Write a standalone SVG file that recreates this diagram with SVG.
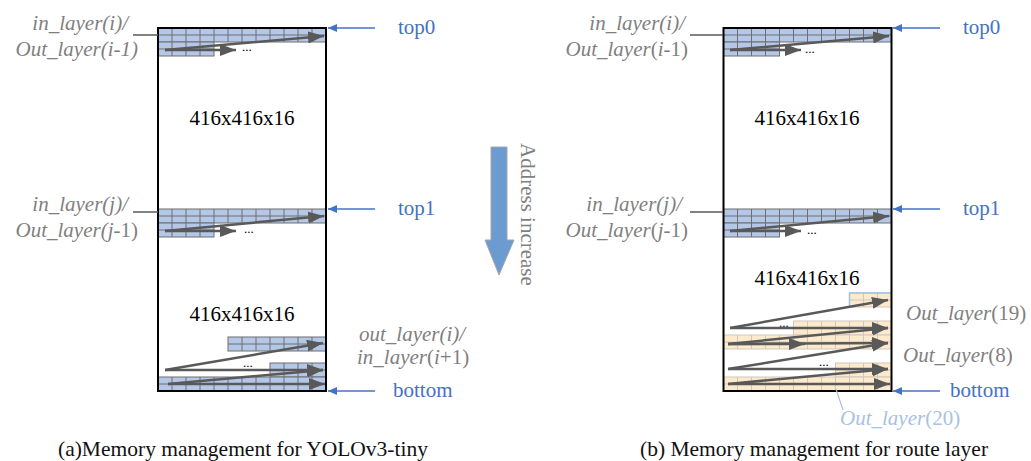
<svg xmlns="http://www.w3.org/2000/svg" width="1031" height="461" viewBox="0 0 1031 461">
  <style>
    text { font-family: "Liberation Serif", "Times New Roman", serif; font-size: 21px; }
    .lbl { fill: #7F7F7F; font-style: italic; }
    .up { font-style: normal; }
    .ptr { fill: #4472C4; }
    .dim { fill: #000; }
    .cap { fill: #111; font-size: 21.5px; }
    .dots { fill: #000; font-size: 13px; }
    .faint { fill: #A9C1E3; font-style: italic; }
    .frame { fill: none; stroke: #000; stroke-width: 2; }
    .bcell { fill: #B4C7E7; stroke: #6E6E6E; stroke-width: 1; }
    .bgrid { fill: none; stroke: #6E6E6E; stroke-width: 1; }
    .ocell { fill: #FDE9CC; stroke: #CFC8BC; stroke-width: 1; }
    .ogrid { fill: none; stroke: #CFC8BC; stroke-width: 1; }
    .flow { fill: none; stroke: #595959; stroke-width: 2.5; marker-end: url(#headGray); }
    .lead { fill: none; stroke: #595959; stroke-width: 1.6; }
    .point { fill: none; stroke: #4472C4; stroke-width: 1.6; marker-end: url(#headBlue); }
  </style>
  <defs>
    <marker id="headGray" markerUnits="userSpaceOnUse" markerWidth="18" markerHeight="14" refX="16" refY="6" orient="auto">
      <path d="M0,0 L16,6 L0,12 z" fill="#595959"/>
    </marker>
    <marker id="headBlue" markerUnits="userSpaceOnUse" markerWidth="10" markerHeight="9" refX="9" refY="4" orient="auto">
      <path d="M0,0 L9,4 L0,8 z" fill="#4472C4"/>
    </marker>
  </defs>

  <rect width="1031" height="461" fill="#fff"/>

  <!-- (a) memory layout for YOLOv3-tiny -->
  <g id="mem-a">
    <rect class="bcell" x="158" y="28" width="168" height="14"/>
    <rect class="bcell" x="158" y="42" width="56" height="14"/>
    <path class="bgrid" d="M172 28V56M186 28V56M200 28V56M214 28V42M228 28V42M242 28V42M256 28V42M270 28V42M284 28V42M298 28V42M312 28V42M158 35H326M158 49H214"/>
    <rect class="bcell" x="158" y="209" width="168" height="14"/>
    <rect class="bcell" x="158" y="223" width="56" height="14"/>
    <path class="bgrid" d="M172 209V237M186 209V237M200 209V237M214 209V223M228 209V223M242 209V223M256 209V223M270 209V223M284 209V223M298 209V223M312 209V223M158 216H326M158 230H214"/>
    <rect class="bcell" x="228" y="337" width="98" height="14"/>
    <path class="bgrid" d="M242 337v14M256 337v14M270 337v14M284 337v14M298 337v14M312 337v14M228 344h98"/>
    <rect class="bcell" x="270" y="363" width="56" height="14"/>
    <rect class="bcell" x="158" y="377" width="168" height="14"/>
    <path class="bgrid" d="M284 363v28M298 363v28M312 363v28M172 377v14M186 377v14M200 377v14M214 377v14M228 377v14M242 377v14M256 377v14M270 377v14M270 370h56M158 384h168"/>
    <rect class="frame" x="158" y="28" width="168" height="363"/>
    <text class="dim" x="242" y="125" text-anchor="middle">416x416x16</text>
    <text class="dim" x="242" y="321" text-anchor="middle">416x416x16</text>
    <text class="dots" x="242" y="51">...</text>
    <text class="dots" x="244" y="233">...</text>
    <text class="dots" x="243" y="367">...</text>
  </g>

  <!-- (b) memory layout for the route layer -->
  <g id="mem-b">
    <rect class="bcell" x="723.5" y="28" width="168" height="14"/>
    <rect class="bcell" x="723.5" y="42" width="56" height="14"/>
    <path class="bgrid" d="M737.5 28V56M751.5 28V56M765.5 28V56M779.5 28V42M793.5 28V42M807.5 28V42M821.5 28V42M835.5 28V42M849.5 28V42M863.5 28V42M877.5 28V42M723.5 35H891.5M723.5 49H779.5"/>
    <rect class="bcell" x="723.5" y="209" width="168" height="14"/>
    <rect class="bcell" x="723.5" y="223" width="56" height="14"/>
    <path class="bgrid" d="M737.5 209V237M751.5 209V237M765.5 209V237M779.5 209V223M793.5 209V223M807.5 209V223M821.5 209V223M835.5 209V223M849.5 209V223M863.5 209V223M877.5 209V223M723.5 216H891.5M723.5 230H779.5"/>
    <rect class="ocell" x="849.5" y="293" width="42" height="14"/>
    <path class="ogrid" d="M863.5 293v14M877.5 293v14M849.5 300h42"/>
    <path d="M849.5 307V293H891.5" fill="none" stroke="#9DC3E6" stroke-width="1.5"/>
    <rect class="ocell" x="793.5" y="321" width="98" height="14"/>
    <rect class="ocell" x="723.5" y="335" width="168" height="14"/>
    <path class="ogrid" d="M807.5 321v28M821.5 321v28M835.5 321v28M849.5 321v28M863.5 321v28M877.5 321v28M737.5 335v14M751.5 335v14M765.5 335v14M779.5 335v14M793.5 335v14M793.5 328h98M723.5 342h168"/>
    <rect class="ocell" x="835.5" y="363" width="56" height="14"/>
    <rect class="ocell" x="723.5" y="377" width="168" height="14"/>
    <path class="ogrid" d="M849.5 363v28M863.5 363v28M877.5 363v28M737.5 377v14M751.5 377v14M765.5 377v14M779.5 377v14M793.5 377v14M807.5 377v14M821.5 377v14M835.5 377v14M835.5 370h56M723.5 384h168"/>
    <rect class="frame" x="723.5" y="28" width="168" height="363"/>
    <text class="dim" x="807" y="125" text-anchor="middle">416x416x16</text>
    <text class="dim" x="807" y="285" text-anchor="middle">416x416x16</text>
    <text class="dots" x="805" y="53">...</text>
    <text class="dots" x="807" y="234">...</text>
    <text class="dots" x="779" y="327">...</text>
    <text class="dots" x="819" y="366">...</text>
  </g>

  <!-- address direction -->
  <g id="addr">
    <polygon points="491,147 507,147 507,240 514,240 499,275 485,240 491,240" fill="#6C9BD2" stroke="#A6A6A6" stroke-width="1"/>
    <text class="lbl up" transform="translate(521,143) rotate(90)">Address increase</text>
  </g>

  <!-- pointer and layer labels -->
  <g id="labels-a">
    <text class="lbl" x="128" y="30" text-anchor="end">in_layer(i)/</text>
    <text class="lbl" x="138" y="56" text-anchor="end">Out_layer(i-1)</text>
    <text class="lbl" x="128" y="211" text-anchor="end">in_layer(j)/</text>
    <text class="lbl" x="138" y="237" text-anchor="end">Out_layer(j<tspan class="up">-1)</tspan></text>
    <text class="lbl" x="359" y="341">out_layer(i)/</text>
    <text class="lbl" x="357" y="364">in_layer<tspan class="up">(</tspan>i<tspan class="up">+1)</tspan></text>
    <text class="ptr" x="398" y="34">top0</text>
    <text class="ptr" x="398" y="215">top1</text>
    <text class="ptr" x="393" y="397">bottom</text>
  </g>
  <g id="labels-b">
    <text class="lbl" x="685" y="30" text-anchor="end">in_layer(i)/</text>
    <text class="lbl" x="688" y="56" text-anchor="end">Out_layer<tspan class="up">(</tspan>i<tspan class="up">-1)</tspan></text>
    <text class="lbl" x="682" y="211" text-anchor="end">in_layer(j)/</text>
    <text class="lbl" x="688" y="237" text-anchor="end">Out_layer<tspan class="up">(</tspan>j<tspan class="up">-1)</tspan></text>
    <text class="lbl" x="906" y="320">Out_layer<tspan class="up">(19)</tspan></text>
    <text class="lbl" x="903" y="362">Out_layer<tspan class="up">(8)</tspan></text>
    <text class="faint" x="840" y="425">Out_layer<tspan class="up">(20)</tspan></text>
    <text class="ptr" x="963" y="34">top0</text>
    <text class="ptr" x="963" y="215">top1</text>
    <text class="ptr" x="950" y="397">bottom</text>
  </g>

  <!-- captions -->
  <g id="captions">
    <text class="cap" x="58" y="456">(a)Memory management for YOLOv3-tiny</text>
    <text class="cap" x="640" y="456">(b) Memory management for route layer</text>
  </g>

  <!-- connectors -->
  <g id="connectors">
    <path class="lead" d="M133 35H158M133 212H158M690 35H723M690 212H723"/>
    <path d="M836 389L843 410" fill="none" stroke="#A9C1E3" stroke-width="1.2"/>
    <line class="point" x1="375" y1="28" x2="328" y2="28"/>
    <line class="point" x1="375" y1="209" x2="328" y2="209"/>
    <line class="point" x1="375" y1="391" x2="328" y2="391"/>
    <line class="point" x1="940" y1="28" x2="893" y2="28"/>
    <line class="point" x1="940" y1="209" x2="893" y2="209"/>
    <line class="point" x1="940" y1="391" x2="893" y2="391"/>

    <line class="flow" x1="165" y1="50" x2="324" y2="36"/>
    <line class="flow" x1="165" y1="50" x2="236" y2="50"/>
    <line class="flow" x1="165" y1="231" x2="324" y2="216"/>
    <line class="flow" x1="165" y1="231" x2="236" y2="231"/>
    <line class="flow" x1="165" y1="370" x2="323" y2="343"/>
    <line class="flow" x1="165" y1="370" x2="323" y2="370"/>
    <line class="flow" x1="168" y1="384" x2="323" y2="370"/>
    <line class="flow" x1="168" y1="384" x2="325" y2="384"/>

    <line class="flow" x1="730" y1="50" x2="889" y2="36"/>
    <line class="flow" x1="730" y1="50" x2="801" y2="50"/>
    <line class="flow" x1="730" y1="231" x2="889" y2="216"/>
    <line class="flow" x1="730" y1="231" x2="801" y2="231"/>
    <line class="flow" x1="730" y1="328" x2="888" y2="300"/>
    <line class="flow" x1="730" y1="328" x2="888" y2="328"/>
    <line class="flow" x1="728" y1="344" x2="888" y2="328"/>
    <line class="flow" x1="728" y1="344" x2="805" y2="344"/>
    <line class="flow" x1="728" y1="344" x2="888" y2="343"/>
    <line class="flow" x1="728" y1="369" x2="888" y2="343"/>
    <line class="flow" x1="728" y1="369" x2="888" y2="369"/>
    <line class="flow" x1="728" y1="384" x2="888" y2="369"/>
    <line class="flow" x1="728" y1="384" x2="890" y2="384"/>
  </g>
</svg>
